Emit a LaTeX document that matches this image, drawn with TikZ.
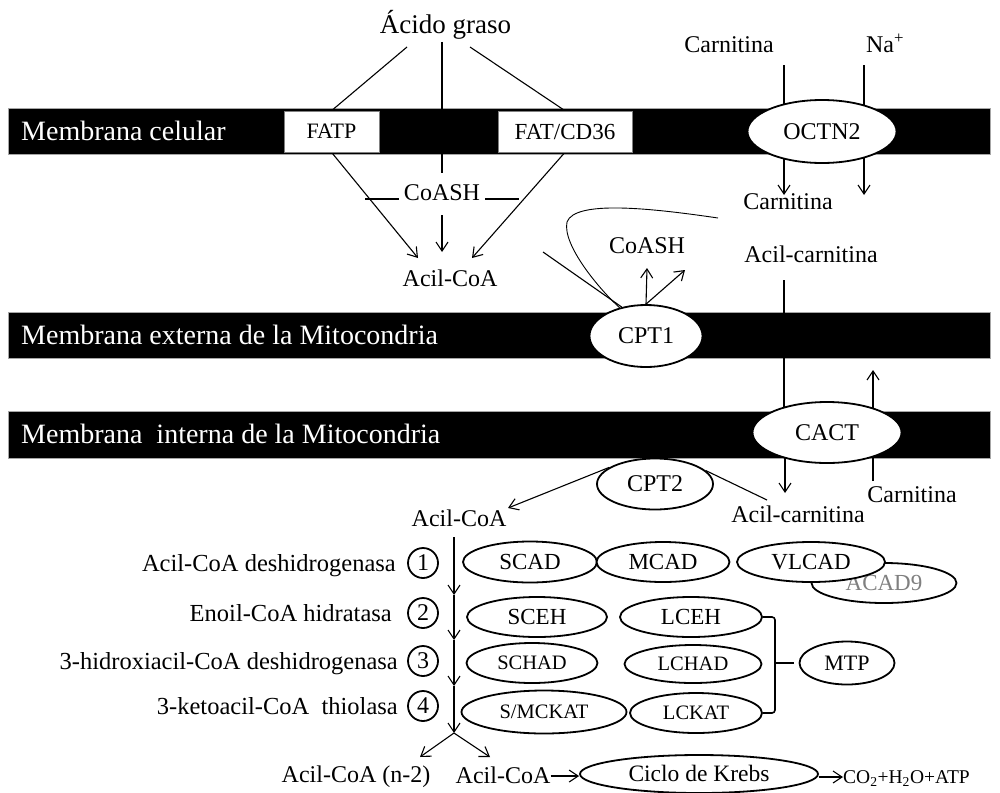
\documentclass[tikz,border=0pt]{standalone}
\usepackage{fontspec}
\setmainfont{Liberation Serif}
\usetikzlibrary{shapes.geometric,arrows.meta}
\pgfdeclarelayer{bg}
\pgfsetlayers{bg,main}
\newcommand\myfs[1]{\fontsize{#1}{#1}\selectfont}
\begin{document}
\begin{tikzpicture}[x=1pt,y=-1pt,
  every node/.style={inner sep=0pt,text depth=0pt},
  f/.code={\pgfmathsetmacro\myth{0.66*#1}\edef\mytmp{\noexpand\tikzset{font=\noexpand\myfs{#1},text height=\myth pt}}\mytmp},
  conn/.style={line width=1.1pt,draw=black},
  arr/.style={conn,-{Straight Barb[length=9pt,width=12pt]}},
  memb/.style={fill=black,draw=black!35,line width=0.6pt},
  membtxt/.style={text=white,f=28,anchor=west},
  wbox/.style={rectangle,draw=black!50,fill=white,line width=0.6pt,minimum width=#1,minimum height=41pt},
  ell/.style={ellipse,draw,fill=white,line width=1.8pt},
  stepc/.style={circle,draw,line width=1.8pt,minimum size=30pt,f=24},
  brk/.style={line width=1.6pt}
]
\useasboundingbox (0,0) rectangle (1000,792);

% ---------- nodes ----------
\node[f=27] (acido) at (445.5,25) {Ácido graso};
\node[f=24] (carn1) at (729,45) {Carnitina};
\node[f=24] (na) at (885,45) {Na\textsuperscript{+}};

\node[membtxt] (m1) at (21,131) {Membrana celular};
\node[membtxt] (m2) at (21,335) {Membrana externa de la Mitocondria};
\node[membtxt] (m3) at (21,434.5) {Membrana\ \ interna de la Mitocondria};

\node[wbox=95pt,f=22] (fatp) at (331.5,131.5) {FATP};
\node[wbox=134pt,f=23] (fat) at (565,131.5) {FAT/CD36};
\node[ell,minimum width=149pt,minimum height=63pt,f=24] (octn2) at (822,131.5) {OCTN2};

\node[f=24] (coash1) at (442,193) {CoASH};
\node[f=24] (acoa1) at (450,279) {Acil-CoA};
\node[f=24] (carn2) at (788,202) {Carnitina};
\node[f=24] (acarn1) at (811,255) {Acil-carnitina};
\node[f=24] (coash2) at (647,246) {CoASH};

\node[ell,minimum width=113pt,minimum height=62pt,f=24] (cpt1) at (646,336) {CPT1};
\node[ell,minimum width=149pt,minimum height=61pt,f=24] (cact) at (827,432.5) {CACT};
\node[ell,minimum width=116pt,minimum height=51pt,f=24] (cpt2) at (655,484) {CPT2};

\node[f=24] (carn3) at (912,495) {Carnitina};
\node[f=24] (acarn2) at (798,515) {Acil-carnitina};
\node[f=24] (acoa2) at (459,519) {Acil-CoA};

% steps
\node[stepc] (s1) at (423,563) {1};
\node[stepc] (s2) at (423,613) {2};
\node[stepc] (s3) at (423,661) {3};
\node[stepc] (s4) at (423,706) {4};
\node[f=24.5,anchor=east] (l1) at (396,563) {Acil-CoA deshidrogenasa};
\node[f=24.5,anchor=east] (l2) at (392,613) {Enoil-CoA hidratasa};
\node[f=24.5,anchor=east] (l3) at (398,661) {3-hidroxiacil-CoA deshidrogenasa};
\node[f=24.5,anchor=east] (l4) at (398,706) {3-ketoacil-CoA\ \ thiolasa};

% enzymes
\node[ell,minimum width=145pt,minimum height=40pt,f=23,text=black!50] (acad9) at (884,583) {ACAD9};
\node[ell,minimum width=134pt,minimum height=41pt,f=23] (scad) at (530,562) {SCAD};
\node[ell,minimum width=133pt,minimum height=40pt,f=23] (mcad) at (663,562) {MCAD};
\node[ell,minimum width=148pt,minimum height=40pt,f=23] (vlcad) at (811,562) {VLCAD};
\node[ell,minimum width=140pt,minimum height=40pt,f=23] (sceh) at (537,617) {SCEH};
\node[ell,minimum width=142pt,minimum height=40pt,f=23] (lceh) at (691,617) {LCEH};
\node[ell,minimum width=131pt,minimum height=40pt,f=20.5] (schad) at (532,663) {SCHAD};
\node[ell,minimum width=137pt,minimum height=38pt,f=20.5] (lchad) at (693,664) {LCHAD};
\node[ell,minimum width=165pt,minimum height=43pt,f=20.5] (smckat) at (544,712) {S/MCKAT};
\node[ell,minimum width=132pt,minimum height=40pt,f=20.5] (lckat) at (696,713) {LCKAT};
\node[ell,minimum width=95pt,minimum height=43pt,f=22] (mtp) at (847,663) {MTP};

% bottom
\node[f=24] (acoan2) at (356,775) {Acil-CoA (n-2)};
\node[f=24] (acoa3) at (503,776) {Acil-CoA};
\node[ell,minimum width=238pt,minimum height=38pt,f=23.5] (krebs) at (699,774) {Ciclo de Krebs};
\node[f=19.5,anchor=west] (co2) at (843,777) {CO\textsubscript{2}+H\textsubscript{2}O+ATP};

% ---------- coordinates ----------
\coordinate (a1) at (407,47);
\coordinate (a2) at (442,42);
\coordinate (a3) at (470,47);
\coordinate (c1) at (442,173);
\coordinate (c2) at (442,215);
\coordinate (t1) at (418,258);
\coordinate (t2) at (442,252);
\coordinate (t3) at (472,258);
\coordinate (o1) at (784,65);
\coordinate (o1b) at (784,195);
\coordinate (o2) at (864,65);
\coordinate (o2b) at (864,195);
\coordinate (ac1) at (543,252);
\coordinate (cv) at (718,218);
\coordinate (u1) at (647,268);
\coordinate (u2) at (685,270);
\coordinate (k1) at (784,280);
\coordinate (k2) at (784,432);
\coordinate (k3) at (785,445);
\coordinate (k4) at (785,493);
\coordinate (k5) at (873,481);
\coordinate (k6) at (873,370);
\coordinate (t5) at (508,508);
\coordinate (t6) at (767,500);
\coordinate (p0) at (454,537);
\coordinate (p1) at (454,595);
\coordinate (p2) at (454,640);
\coordinate (p3) at (454,686);
\coordinate (p4) at (454,733);
\coordinate (q1) at (420,757);
\coordinate (q2) at (490,757);
\coordinate (bx) at (775,663);

\begin{pgfonlayer}{bg}
% membranes
\draw[memb] (8,108) rectangle (990,154);
\draw[memb] (8,312) rectangle (990,358);
\draw[memb] (8,411) rectangle (990,458);

% fatty acid uptake
\draw[conn] (a1) -- (fatp.north);
\draw[conn] (a2) -- (c1);
\draw[conn] (a3) -- (fat.north);
\draw[arr] (fatp.south) -- (t1);
\draw[arr] (fat.south) -- (t3);
\draw[arr] (c2) -- (t2);
\draw[conn] ([xshift=-5pt,yshift=-6pt]coash1.west) -- +(-34,0);
\draw[conn] ([xshift=5pt,yshift=-6pt]coash1.east) -- +(34,0);

% OCTN2
\draw[arr] (o1) -- (o1b);
\draw[arr] (o2) -- (o2b);

% CPT1
\draw[conn] (ac1) -- (cpt1.130);
\draw[line width=0.9pt] (cv) .. controls (650,208) and (575,200) .. (567,222)
   .. controls (562,245) and (600,290) .. (cpt1.133);
\draw[arr] (cpt1.north) -- (u1);
\draw[arr] (cpt1.north) -- (u2);

% CACT
\draw[conn] (k1) -- (k2);
\draw[arr] (k3) -- (k4);
\draw[arr] (k5) -- (k6);

% CPT2
\draw[arr] (cpt2.160) -- (t5);
\draw[conn] (cpt2.15) -- (t6);

% beta oxidation chain
\draw[arr] (p0) -- (p1);
\draw[arr] (p1) -- (p2);
\draw[arr] (p2) -- (p3);
\draw[arr] (p3) -- (p4);
\draw[arr] (p4) -- (q1);
\draw[arr] (p4) -- (q2);

% MTP bracket
\draw[brk,rounded corners=3pt] (lceh.east) -- (lceh.east -| bx) -- (lckat.east -| bx) -- (lckat.east);
\draw[brk] (bx) -- ([xshift=-5pt]mtp.west);

% Krebs
\draw[arr] (acoa3.east) -- (acoa3.east -| krebs.west);
\draw[arr] (co2.west -| krebs.east) -- (co2.west);
\end{pgfonlayer}
\end{tikzpicture}
\end{document}
